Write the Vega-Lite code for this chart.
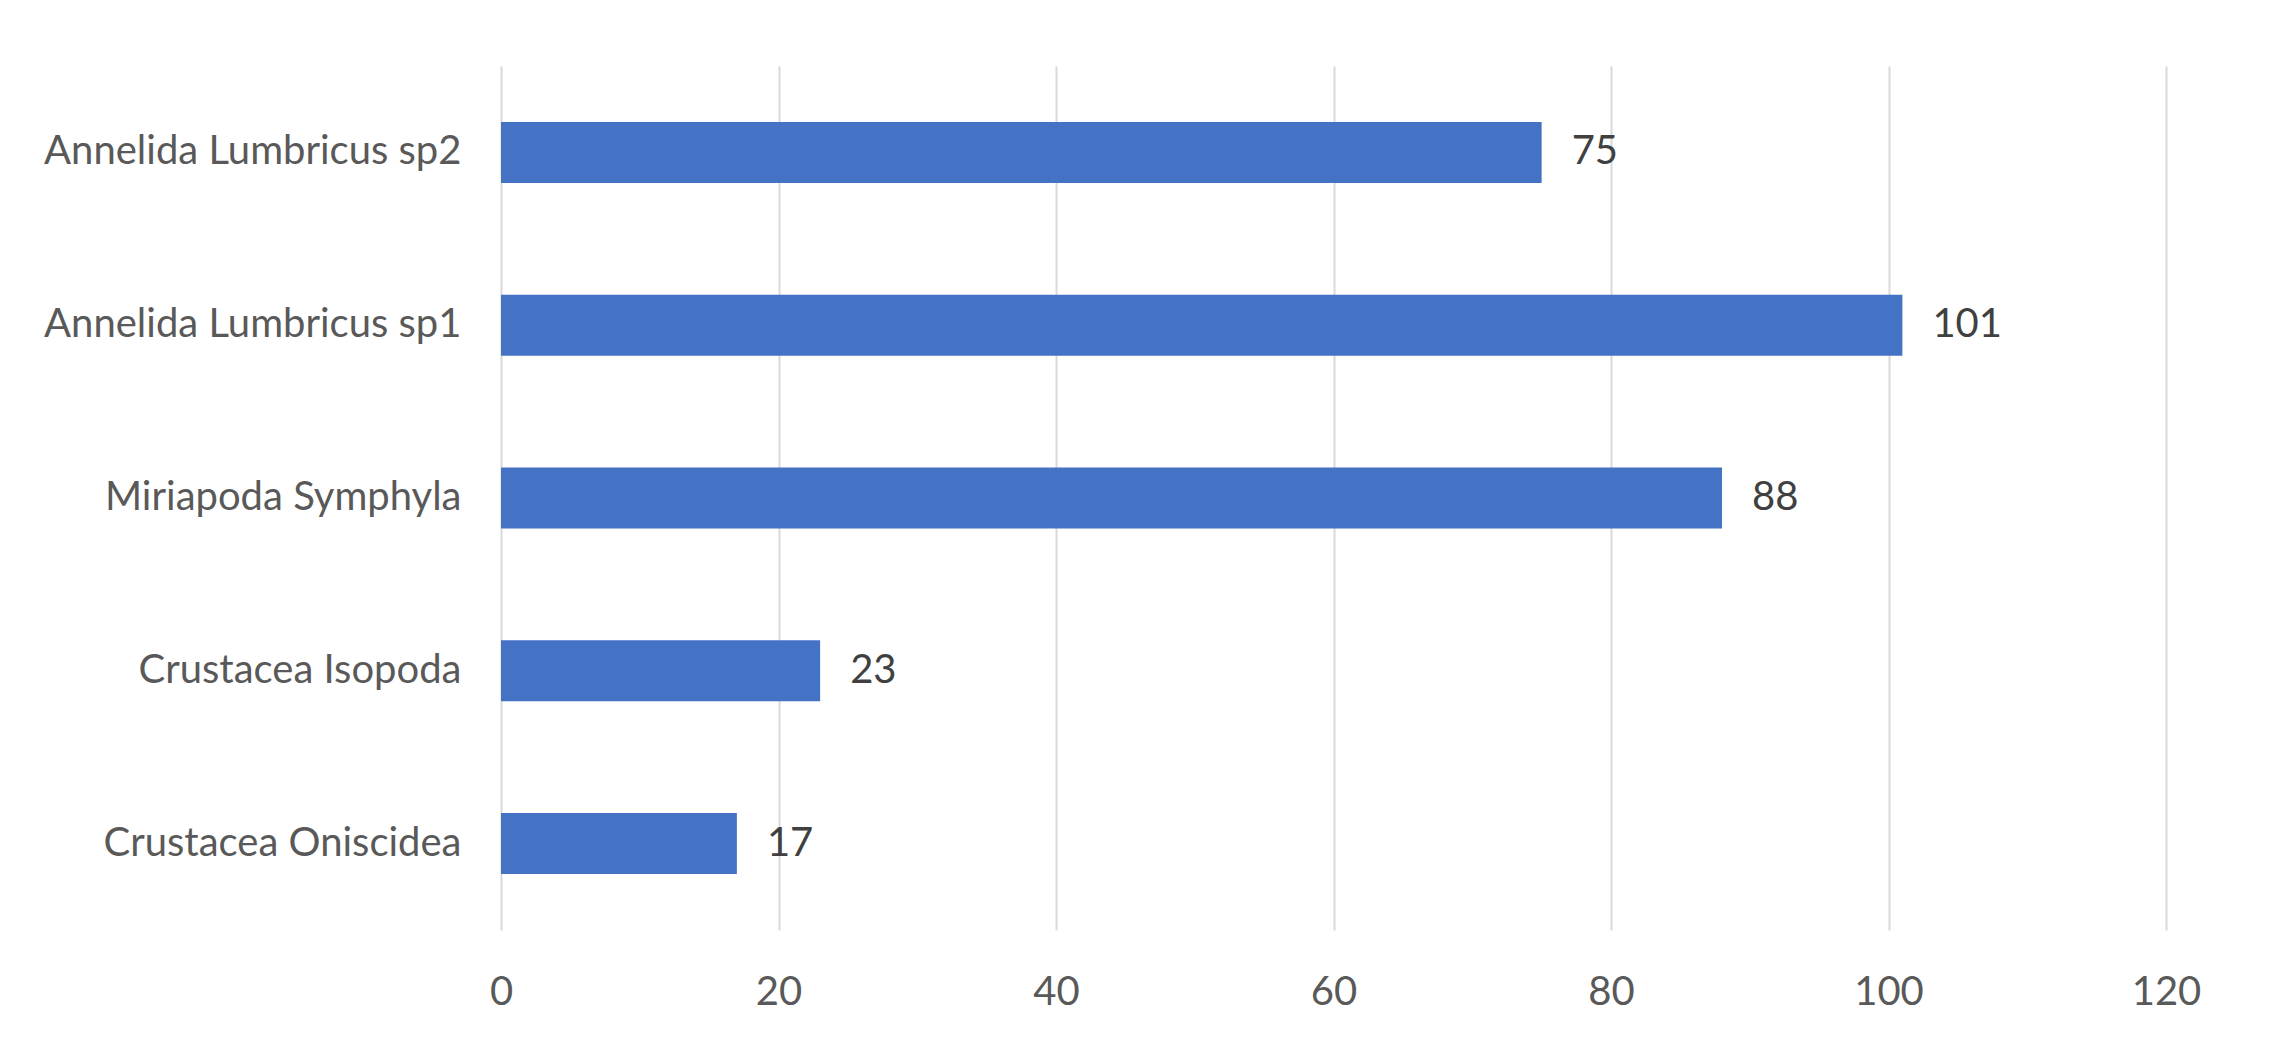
{
  "$schema": "https://vega.github.io/schema/vega-lite/v6.json",
  "autosize": {"type": "none"},
  "padding": {"left": 501, "top": 66, "right": 103, "bottom": 128},
  "width": 1665,
  "height": 864,
  "background": "white",
  "config": {"view": {"stroke": null}, "font": "Lato"},
  "data": {"values": [
    {"taxon": "Annelida Lumbricus sp2", "count": 75},
    {"taxon": "Annelida Lumbricus sp1", "count": 101},
    {"taxon": "Miriapoda Symphyla", "count": 88},
    {"taxon": "Crustacea Isopoda", "count": 23},
    {"taxon": "Crustacea Oniscidea", "count": 17}
  ]},
  "encoding": {
    "y": {"field": "taxon", "type": "nominal", "sort": null,
      "scale": {"paddingInner": 0.647, "paddingOuter": 0.3235},
      "axis": {"title": null, "domain": false, "ticks": false, "labelPadding": 40,
        "labelFontSize": 40, "labelColor": "#595959", "labelFont": "Lato", "labelLimit": 600}},
    "x": {"field": "count", "type": "quantitative",
      "scale": {"domain": [0, 120], "nice": false},
      "axis": {"title": null, "domain": false, "ticks": false, "values": [0,20,40,60,80,100,120],
        "labelFlush": false, "labelFontSize": 40, "labelColor": "#595959", "labelPadding": 42, "labelFont": "Lato",
        "gridColor": "#D9D9D9", "gridWidth": 2}}
  },
  "layer": [
    {"mark": {"type": "bar", "color": "#4472C4"}},
    {"mark": {"type": "text", "align": "left", "dx": 30, "fontSize": 40, "color": "#404040", "font": "Lato"},
     "encoding": {"text": {"field": "count", "type": "quantitative"}}}
  ]
}
